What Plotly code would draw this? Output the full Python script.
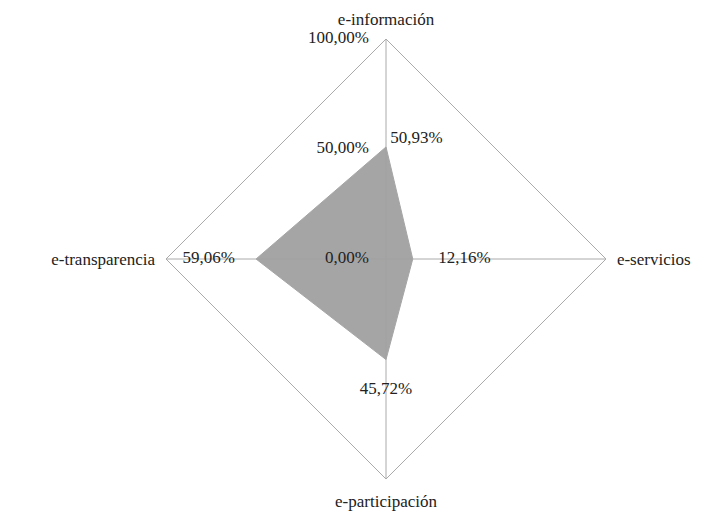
import plotly.graph_objects as go

categories = ["e-información", "e-servicios", "e-participación", "e-transparencia"]
values = [0.5093, 0.1216, 0.4572, 0.5906]
value_labels = ["50,93%", "12,16%", "45,72%", "59,06%"]
tick_vals = [0, 0.5, 1.0]
tick_text = ["0,00%", "50,00%", "100,00%"]

font_family = "Liberation Serif"

fig = go.Figure()
fig.add_trace(go.Scatterpolar(
    r=values + [values[0]],
    theta=categories + [categories[0]],
    mode="lines",
    fill="toself",
    fillcolor="rgba(160,160,160,0.95)",
    line=dict(color="rgba(165,165,165,1)", width=1),
    hoverinfo="skip",
    showlegend=False,
))
fig.add_trace(go.Scatterpolar(
    r=values,
    theta=categories,
    mode="text",
    text=[" " + value_labels[0], "      " + value_labels[1], "<br>" + value_labels[2], value_labels[3] + "     "],
    textposition=["top right", "middle right", "bottom center", "middle left"],
    textfont=dict(family=font_family, size=17, color="#222"),
    showlegend=False,
    hoverinfo="skip",
))
# radial tick labels drawn beside the vertical axis (r at the axis minimum is nudged so it is rendered)
fig.add_trace(go.Scatterpolar(
    r=[max(v, 1e-4) for v in tick_vals],
    theta=[categories[0]] * len(tick_vals),
    mode="text",
    text=[t + "    " for t in tick_text],
    textposition=["middle left", "middle left", "middle left"],
    textfont=dict(family=font_family, size=17, color="#222"),
    showlegend=False,
    hoverinfo="skip",
    cliponaxis=False,
))

R = 220
cx, cy = 386, 259
fig.update_layout(
    width=727, height=512,
    margin=dict(l=0, r=0, t=0, b=0),
    paper_bgcolor="white",
    plot_bgcolor="white",
    font=dict(family=font_family, size=17, color="#222"),
    polar=dict(
        domain=dict(x=[(cx - R)/727, (cx + R)/727], y=[1-(cy + R)/512, 1-(cy - R)/512]),
        gridshape="linear",
        bgcolor="white",
        angularaxis=dict(
            rotation=90,
            direction="clockwise",
            showline=True,
            linecolor="#aaaaaa",
            linewidth=1,
            showgrid=True,
            gridcolor="#aaaaaa",
            ticks="outside",
            ticklen=7,
            tickcolor="rgba(255,255,255,0)",
            tickfont=dict(family=font_family, size=17, color="#222"),
        ),
        radialaxis=dict(
            range=[0, 1],
            angle=90,
            showticklabels=False,
            showgrid=False,
            showline=False,
            ticks="",
        ),
    ),
)
fig.write_html("out.html")
